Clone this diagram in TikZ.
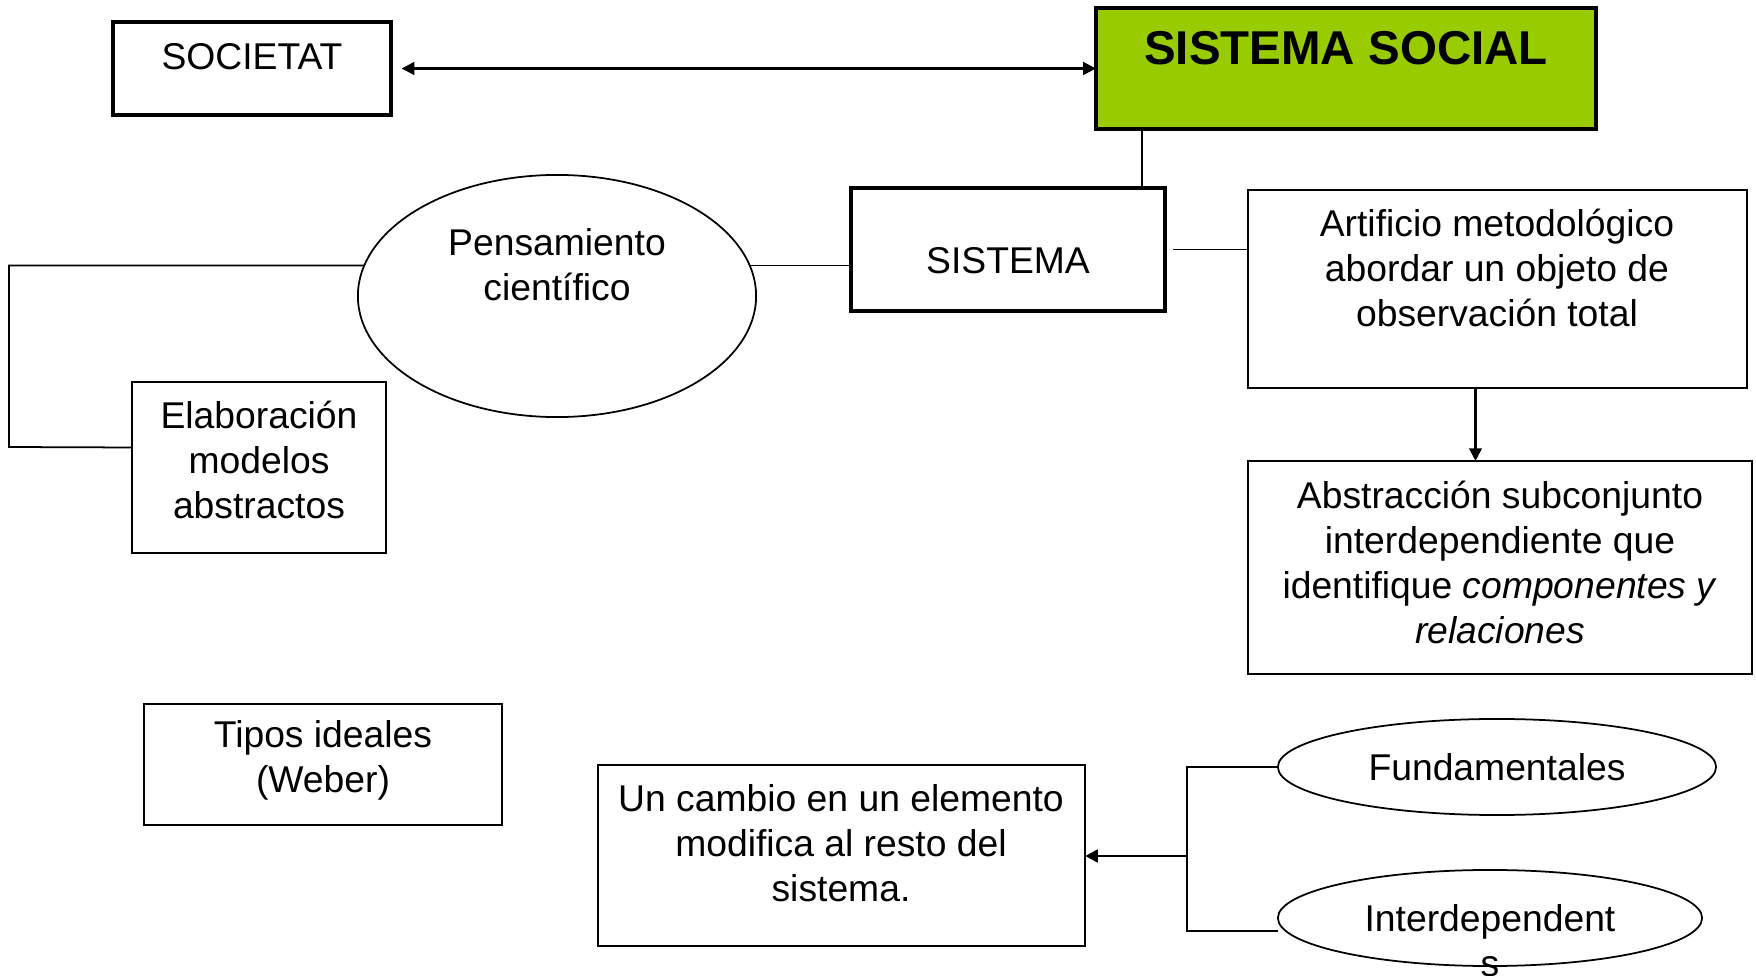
\documentclass[tikz,border=0pt]{standalone}
\usepackage{fontspec}
\setmainfont{Liberation Sans}
\usetikzlibrary{shapes.geometric,arrows.meta}
\definecolor{verdesocial}{HTML}{99CC00}
\tikzset{
  caja/.style={draw, line width=0.5pt, inner sep=0pt, outer sep=0pt},
  cajagruesa/.style={draw, line width=1.3pt, inner sep=0pt, outer sep=0pt},
  elipse/.style={draw, ellipse, line width=0.5pt, inner sep=0pt, outer sep=0pt},
  texto/.style={align=center, inner sep=0pt, font=\fontsize{10.6pt}{12.8pt}\selectfont},
}
\begin{document}
\begin{tikzpicture}[x=0.01cm, y=-0.01cm, >={Triangle[length=3.6pt,width=3.6pt]}, line width=0.5pt]
        \useasboundingbox (0,0) rectangle (1756,976);

        % cajas
        \node[cajagruesa, minimum width=2.78cm, minimum height=0.93cm] (societat) at (252,68.5) {};
        \node[cajagruesa, fill=verdesocial, minimum width=5cm, minimum height=1.21cm] (social) at (1346,68.5) {};
        \node[cajagruesa, minimum width=3.14cm, minimum height=1.23cm] (sistema) at (1008,249.5) {};
        \node[elipse, minimum width=3.98cm, minimum height=2.42cm] (pensamiento) at (557,296) {};
        \node[caja, minimum width=2.54cm, minimum height=1.71cm] (elaboracion) at (259,467.5) {};
        \node[caja, minimum width=4.99cm, minimum height=1.98cm] (artificio) at (1497.5,289) {};
        \node[caja, minimum width=5.04cm, minimum height=2.13cm] (abstraccion) at (1500,567.5) {};
        \node[caja, minimum width=3.58cm, minimum height=1.21cm] (tipos) at (323,764.5) {};
        \node[caja, minimum width=4.87cm, minimum height=1.81cm] (cambio) at (841.5,855.5) {};
        \node[elipse, minimum width=4.38cm, minimum height=0.96cm] (fundamentales) at (1497,767) {};
        \node[elipse, minimum width=4.24cm, minimum height=0.96cm] (interdep) at (1490,918) {};

        % textos
        \node[texto] (societat-t) at (252,57) {SOCIETAT};
        \node[texto, font=\fontsize{13.5pt}{16pt}\selectfont\bfseries] (social-t) at (1346,48) {SISTEMA SOCIAL};
        \node[texto] (sistema-t) at (1008,261) {SISTEMA};
        \node[texto] (pensamiento-t) at (557,265) {Pensamiento\\científico};
        \node[texto] (elaboracion-t) at (259,460) {Elaboración\\modelos\\abstractos};
        \node[texto] (artificio-t) at (1497,268) {Artificio metodológico\\abordar un objeto de\\observación total};
        \node[texto] (abstraccion-t) at (1500,562) {Abstracción subconjunto\\interdependiente que\\identifique \textit{componentes y}\\\textit{relaciones}};
        \node[texto] (tipos-t) at (323,760) {Tipos ideales\\(Weber)};
        \node[texto] (cambio-t) at (841,843) {Un cambio en un elemento\\modifica al resto del\\sistema.};
        \node[texto] (fundamentales-t) at (1497,767) {Fundamentales};
        \node[texto] (interdep-t) at (1490,941) {Interdependent\\s};

        % conectores
        \draw[<->, line width=0.7pt, shorten <=3pt] (societat.east) -- (societat.east -| social.west);
        \draw ([xshift=1.34cm]sistema.north) -- ([xshift=1.34cm]sistema.north |- social.south);
        \draw (pensamiento.9) -- (pensamiento.9 -| sistema.west);
        \draw (pensamiento.171) -| (9,447) -- ([yshift=0.2cm]elaboracion.west);
        \draw ([xshift=0.08cm]sistema.east) -- (sistema.east -| artificio.west);
        \draw[->, line width=0.6pt] ([xshift=-0.22cm]artificio.south) -- ([xshift=-0.22cm]artificio.south |- abstraccion.north);

        \coordinate (cruce) at (1187,856);
        \draw (fundamentales.west) -| (cruce) |- ([yshift=-0.13cm]interdep.west);
        \draw[->, line width=0.8pt] (cruce) -- (cruce -| cambio.east);
    \end{tikzpicture}
\end{document}
